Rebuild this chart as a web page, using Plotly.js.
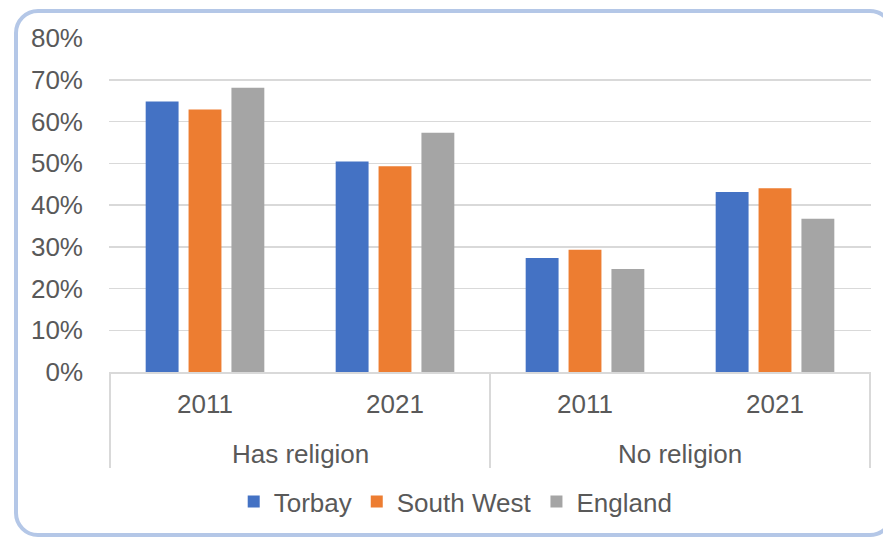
<!DOCTYPE html>
<html>
<head>
<meta charset="utf-8">
<script src="https://cdn.plot.ly/plotly-3.0.1.min.js"></script>
<style>
  html, body { margin: 0; padding: 0; background: #ffffff; overflow: hidden; }
  #wrap { position: relative; width: 883px; height: 537px; overflow: hidden; }
  #chart { position: absolute; left: 0; top: 0; width: 883px; height: 537px; }
  #frame { position: absolute; left: 14px; top: 9px; width: 880px; height: 528px;
           box-sizing: border-box; border: 4px solid #B4C7E7; border-radius: 24px;
           pointer-events: none; }
</style>
</head>
<body>
<div id="wrap">
  <div id="chart"></div>
  <div id="frame"></div>
</div>
<script>
// Data (percent)
const groups = ['Has religion', 'Has religion', 'No religion', 'No religion'];
const years = ['2011', '2021', '2011', '2021'];
const seriesNames = ['Torbay', 'South West', 'England'];
const torbay = [64.8, 50.4, 27.3, 43.1];
const southWest = [62.9, 49.3, 29.3, 44.0];
const england = [68.1, 57.3, 24.7, 36.7];
const yTicks = [0, 10, 20, 30, 40, 50, 60, 70, 80];

const colors = ['#4472C4', '#ED7D31', '#A5A5A5'];
const seriesValues = [torbay, southWest, england];

// unique category keys for each (group, year) pair
const catKeys = groups.map((g, i) => g + ' ' + years[i]);

const traces = seriesValues.map((vals, i) => ({
  type: 'bar',
  name: seriesNames[i],
  x: catKeys,
  y: vals,
  marker: { color: colors[i], line: { width: 0 } },
  hoverinfo: 'skip'
}));

// group spans (derived from the groups array)
const spans = [];
groups.forEach((g, i) => {
  if (i === 0 || groups[i - 1] !== g) spans.push({ name: g, start: i, end: i });
  else spans[spans.length - 1].end = i;
});

const textColor = '#595959';
const font = { family: 'Liberation Sans, Arial, sans-serif', size: 26, color: textColor };
const lineCol = '#D9D9D9';

const annotations = spans.map(s => ({
  xref: 'x', yref: 'paper',
  x: (s.start + s.end) / 2, y: -0.2455,
  xanchor: 'center', yanchor: 'middle',
  text: s.name, showarrow: false, font: font
}));

const dividerX = [spans[0].start - 0.5].concat(spans.map(s => s.end + 0.5));
const shapes = dividerX.map(xv => ({
  type: 'line', xref: 'x', yref: 'paper',
  x0: xv, x1: xv, y0: 0, y1: -0.2874,
  line: { color: lineCol, width: 2 },
  layer: 'above'
}));

const layout = {
  width: 883,
  height: 537,
  margin: { l: 109, r: 12, t: 38, b: 165 },
  paper_bgcolor: 'rgba(0,0,0,0)',
  plot_bgcolor: 'rgba(0,0,0,0)',
  font: font,
  barmode: 'group',
  bargap: 0.323,
  bargroupgap: 0.233,
  showlegend: true,
  legend: {
    orientation: 'h',
    x: 0.455, xanchor: 'center',
    y: -0.388, yanchor: 'middle',
    font: font,
    bgcolor: 'rgba(0,0,0,0)'
  },
  annotations: annotations,
  shapes: shapes,
  xaxis: {
    type: 'category',
    tickmode: 'array',
    tickvals: catKeys,
    ticktext: years,
    showline: true,
    linecolor: lineCol,
    linewidth: 1.5,
    showgrid: false,
    zeroline: false,
    ticks: '',
    ticklabelstandoff: 8,
    tickfont: font,
    fixedrange: true
  },
  yaxis: {
    range: [0, 80],
    tickvals: yTicks,
    ticktext: yTicks.map(v => v + '%'),
    showgrid: true,
    gridcolor: lineCol,
    gridwidth: 1.5,
    zeroline: false,
    showline: false,
    ticks: '',
    ticklabelstandoff: 25,
    tickfont: font,
    fixedrange: true
  }
};

Plotly.newPlot('chart', traces, layout, { staticPlot: true, displayModeBar: false });
</script>
</body>
</html>
